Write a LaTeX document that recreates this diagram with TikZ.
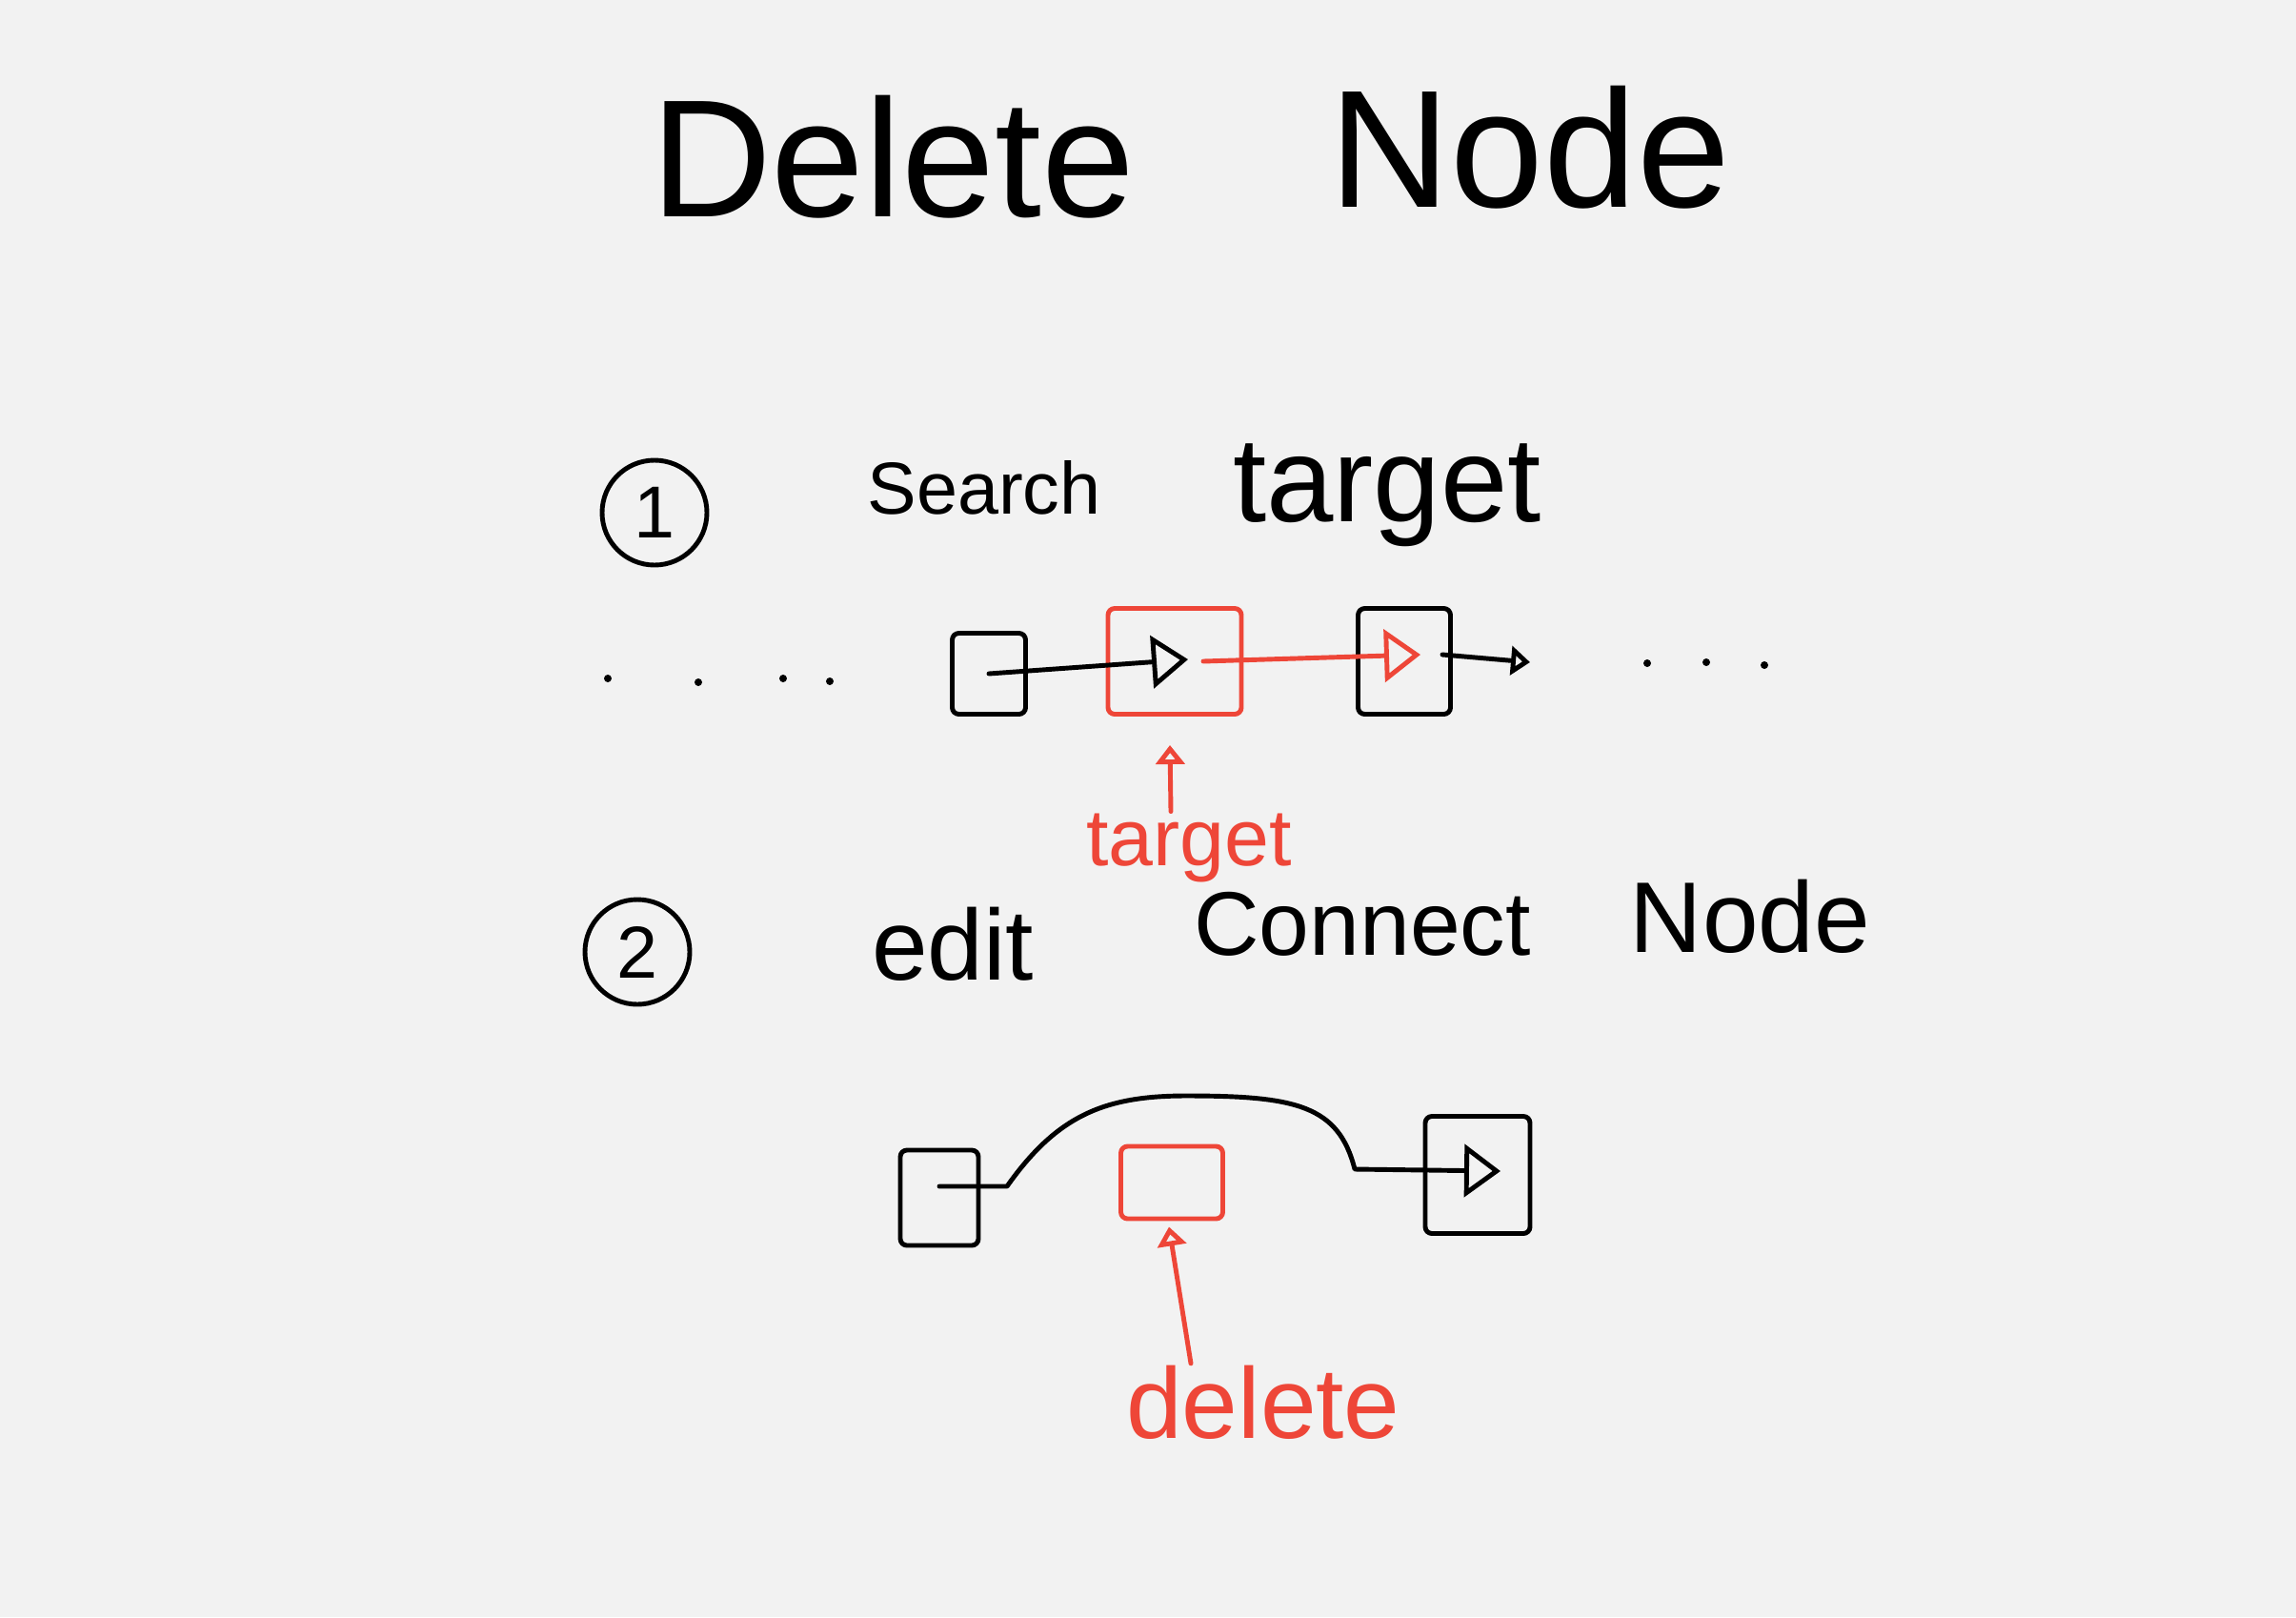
\documentclass[tikz,border=0pt]{standalone}
\usepackage{fontspec}
\setmainfont{Liberation Sans}
\usetikzlibrary{arrows.meta}
\definecolor{paper}{RGB}{242,242,242}
\definecolor{penred}{RGB}{238,70,56}
\newcommand{\fsz}[1]{\fontsize{#1}{#1}\selectfont}

\begin{document}
\begin{tikzpicture}[line width=1.4pt, line cap=round, line join=round]
\tikzstyle{every node}+=[inner sep=0pt]
\tikzstyle{cell}=[draw, rounded corners=2pt]
\tikzstyle{numring}=[draw, circle, minimum size=1.1cm, font=\fsz{22}]
\tikzstyle{link}=[-{Triangle[open,length=0.38cm,width=0.55cm]}]
\tikzstyle{nextlink}=[-{Triangle[open,length=0.2cm,width=0.3cm]}]
\tikzstyle{pointer}=[penred, -{Triangle[open,length=0.2cm,width=0.3cm]}]
\useasboundingbox [fill=paper] (0,0) rectangle (24.1,-16.97);
% title
\node (ttlA) at (9.37,-1.65) {\fsz{50}Delete};
\node (ttlB) at (16.06,-1.55) {\fsz{50}Node};
% step 1
\node [numring] (one) at (6.87,-5.38) {1};
\node (srch) at (10.33,-5.12) {\fsz{22}Search};
\node (trgt) at (14.56,-5.20) {\fsz{36}target};
\node [cell, minimum width=0.77cm, minimum height=0.85cm] (a) at (10.38,-7.07) {};
\node [cell, penred, minimum width=1.40cm, minimum height=1.11cm] (b) at (12.33,-6.94) {};
\node [cell, minimum width=0.97cm, minimum height=1.11cm] (c) at (14.74,-6.94) {};
\coordinate (nxt) at (16.06,-6.95);
\draw [link] (a.center) -- ([xshift=0.14cm,yshift=0.02cm]b.center);
\draw [link, penred] ([xshift=0.3cm]b.center) -- ([xshift=0.17cm,yshift=0.07cm]c.center);
\draw [nextlink] ([xshift=0.4cm,yshift=0.07cm]c.center) -- (nxt);
\foreach \x/\y in {6.38/7.12, 7.33/7.16, 8.22/7.12, 8.71/7.15, 17.29/6.96, 17.91/6.95, 18.52/6.98}
  \fill (\x,-\y) circle (0.04);
\node [penred] (tlab) at (12.48,-8.90) {\fsz{24}target};
\draw [pointer] ([xshift=-0.19cm]tlab.north) -- ([yshift=-0.3cm,xshift=-0.05cm]b.south);
% step 2
\node [numring] (two) at (6.69,-9.99) {2};
\node (edt) at (10.00,-9.91) {\fsz{30}edit};
\node (cnct) at (14.30,-9.70) {\fsz{27}Connect};
\node (nd) at (18.37,-9.62) {\fsz{30}Node};
\node [cell, minimum width=0.82cm, minimum height=1.0cm] (d) at (9.86,-12.57) {};
\node [cell, penred, minimum width=1.07cm, minimum height=0.76cm] (e) at (12.30,-12.41) {};
\node [cell, minimum width=1.10cm, minimum height=1.23cm] (f) at (15.51,-12.33) {};
\draw [link] ([yshift=0.12cm]d.center) -- (10.57,-12.45) .. controls (11.1,-11.7) and (11.6,-11.5) .. (12.45,-11.5)
  .. controls (13.6,-11.5) and (14.05,-11.6) .. (14.22,-12.27) -- ([xshift=0.24cm,yshift=0.04cm]f.center);
\node [penred] (dlab) at (13.26,-14.72) {\fsz{30}delete};
\draw [pointer] ([xshift=-0.76cm]dlab.north) -- ([yshift=-0.06cm,xshift=-0.03cm]e.south);
\end{tikzpicture}
\end{document}
